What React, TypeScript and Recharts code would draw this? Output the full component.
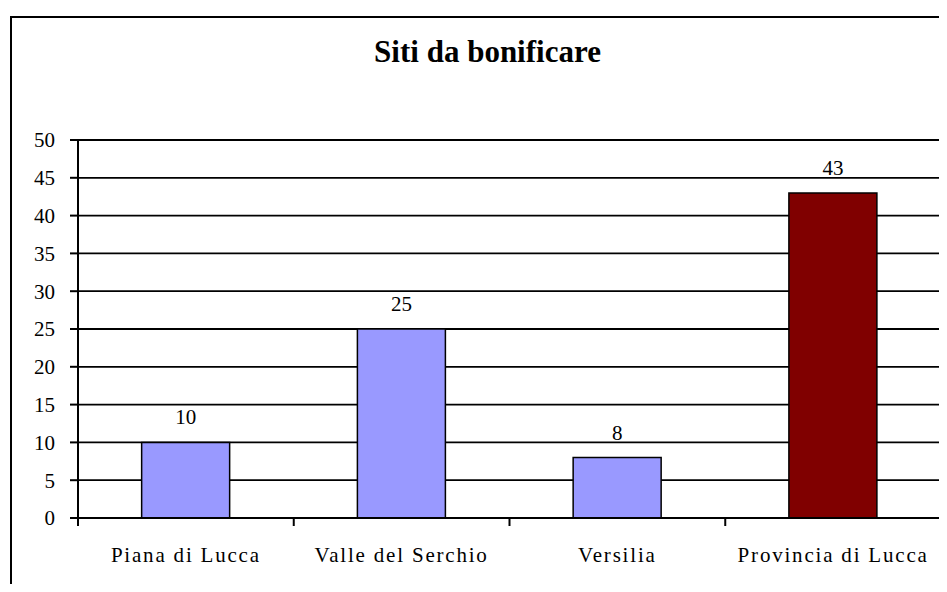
import { BarChart, Bar, XAxis, YAxis, CartesianGrid, Cell, LabelList } from 'recharts'

const categories = ['Piana di Lucca', 'Valle del Serchio', 'Versilia', 'Provincia di Lucca']
const siti = [10, 25, 8, 43]
const yTicks = [0, 5, 10, 15, 20, 25, 30, 35, 40, 45, 50]

const barColors = ['#9999ff', '#9999ff', '#9999ff', '#800000']
const FONT = "'Liberation Serif', 'Times New Roman', serif"
const serif = { fontFamily: FONT }

const data = categories.map((name, i) => ({ name, value: siti[i] }))

function CategoryTick(props: any) {
  const { x, y, payload, index } = props
  const half = payload?.offset || 107.9
  const last = index === categories.length - 1
  return (
    <g>
      <line x1={x - half} y1={y - 8} x2={x - half} y2={y} stroke="#000" strokeWidth={2} />
      {last && <line x1={x + half} y1={y - 8} x2={x + half} y2={y} stroke="#000" strokeWidth={2} />}
      <text
        x={x}
        y={y + 36}
        textAnchor="middle"
        style={{ fontFamily: FONT, fontSize: 21, letterSpacing: 1.8 }}
        fill="#000"
      >
        {payload.value}
      </text>
    </g>
  )
}

export default function App() {
  return (
    <div style={{ position: 'relative', width: 947, height: 592, margin: -8, background: '#fff', overflow: 'hidden' }}>
      <div
        style={{
          position: 'absolute',
          left: 10,
          top: 16,
          width: 960,
          height: 600,
          borderLeft: '2px solid #000',
          borderTop: '2px solid #000',
        }}
      />
      <div
        style={{
          position: 'absolute',
          left: 28,
          width: 919,
          top: 34,
          textAlign: 'center',
          fontFamily: FONT,
          fontWeight: 'bold',
          fontSize: 31,
          lineHeight: '36px',
        }}
      >
        Siti da bonificare
      </div>
      <div style={{ position: 'absolute', left: 0, top: 0 }}>
        <BarChart
          width={947}
          height={592}
          data={data}
          margin={{ top: 140, right: 6, left: 0, bottom: 0 }}
          barCategoryGap="29.5%"
          style={serif}
        >
          <CartesianGrid horizontal vertical={false} stroke="#000" strokeWidth={1.8} />
          <XAxis
            dataKey="name"
            height={74}
            axisLine={{ stroke: '#000', strokeWidth: 2 }}
            tickLine={false}
            tick={<CategoryTick />}
            interval={0}
          />
          <YAxis
            width={78}
            domain={[0, 50]}
            ticks={yTicks}
            interval={0}
            axisLine={{ stroke: '#000', strokeWidth: 2 }}
            tickLine={{ stroke: '#000', strokeWidth: 2 }}
            tickSize={8}
            tickMargin={15}
            tick={{ fontSize: 21, fill: '#000', style: serif }}
          />
          <Bar dataKey="value" stroke="#000" strokeWidth={1.5} isAnimationActive={false}>
            {data.map((d, i) => (
              <Cell key={d.name} fill={barColors[i]} />
            ))}
            <LabelList
              dataKey="value"
              position="top"
              offset={18}
              fill="#000"
              fontSize={21}
              style={serif}
            />
          </Bar>
        </BarChart>
      </div>
    </div>
  )
}
